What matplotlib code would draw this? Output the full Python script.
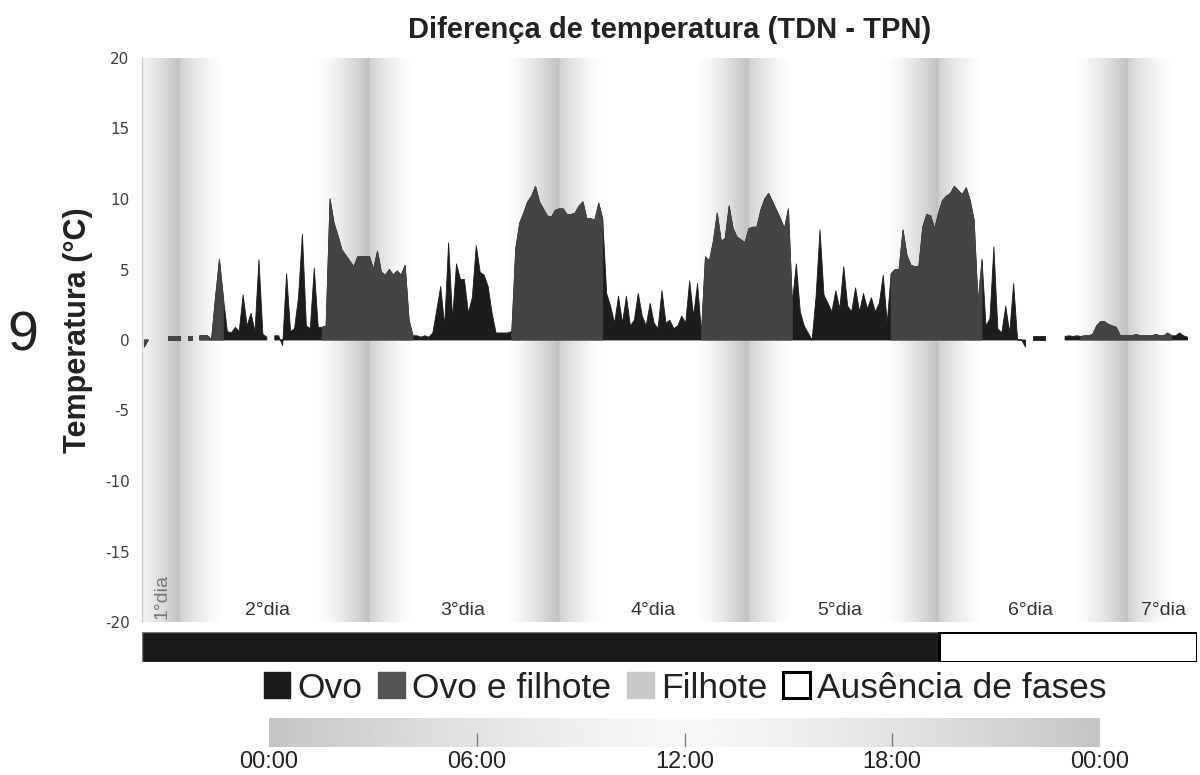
import numpy as np
import matplotlib.pyplot as plt
from matplotlib.patches import Patch

plt.rcParams['axes.unicode_minus'] = False

nan = np.nan

# TDN - TPN (°C), one value every 30 min; hours counted from midnight of day 1
t_first = 19.0
dt = 0.5
dif_day1 = [nan, -0.5, 0.0, nan, nan, nan, nan, 0.3, 0.3, 0.3]
dif_day2 = [0.3, nan, 0.3, 0.3, nan, 0.3, 0.3, 0.3, 0.0, 3.0, 5.7, 3.0,
            0.6, 0.5, 0.9, 0.6, 3.2, 1.0, 1.9, 0.6, 5.7, 0.4, 0.2, nan,
            0.3, 0.3, -0.4, 4.7, 0.6, 0.8, 3.0, 7.5, 1.0, 0.8, 5.1, 0.9,
            0.9, 1.0, 10.0, 8.3, 7.4, 6.4, 6.0, 5.6, 5.2, 5.9, 5.9, 5.9]
dif_day3 = [5.9, 5.0, 6.3, 4.8, 4.6, 5.0, 4.6, 4.9, 4.6, 5.3, 1.4, 0.3,
            0.3, 0.2, 0.3, 0.2, 0.5, 2.1, 3.8, 1.0, 6.9, 1.5, 5.4, 4.3,
            4.3, 1.9, 3.0, 6.7, 4.8, 4.6, 3.8, 1.9, 0.5, 0.5, 0.5, 0.5,
            0.6, 6.5, 8.3, 9.0, 9.8, 10.2, 10.9, 9.8, 9.3, 8.8, 8.7, 9.2]
dif_day4 = [9.3, 9.3, 8.9, 8.9, 9.0, 9.5, 9.8, 8.6, 8.6, 8.5, 9.7, 8.6,
            3.3, 2.4, 1.2, 3.1, 1.2, 3.1, 1.0, 1.4, 3.3, 1.7, 1.0, 2.6,
            1.2, 0.8, 3.5, 1.2, 1.4, 0.8, 1.0, 1.7, 1.2, 4.2, 1.7, 4.0,
            0.5, 5.9, 5.6, 7.0, 9.0, 7.0, 7.2, 9.5, 7.9, 7.3, 7.1, 6.9]
dif_day5 = [7.9, 8.0, 8.0, 9.2, 10.0, 10.4, 9.8, 9.2, 8.6, 7.9, 9.3, 2.6,
            5.4, 2.0, 1.0, 0.5, 0.0, 3.1, 7.8, 3.2, 2.6, 2.0, 3.5, 2.2,
            5.2, 2.4, 2.0, 3.7, 2.0, 3.3, 2.2, 3.0, 2.0, 2.6, 4.6, 1.2,
            4.7, 5.0, 5.0, 7.8, 6.0, 5.3, 5.2, 5.2, 8.0, 8.9, 8.8, 7.9]
dif_day6 = [9.0, 9.9, 10.2, 10.4, 10.9, 10.6, 10.3, 10.8, 9.9, 8.5, 2.6, 5.7,
            1.0, 1.5, 6.6, 0.8, 0.5, 2.4, 0.5, 4.0, 0.0, 0.0, -0.5, nan,
            0.3, 0.3, 0.3, 0.3, nan, nan, nan, nan, 0.25, 0.3, 0.25, 0.3,
            0.25, 0.3, 0.3, 0.4, 1.0, 1.3, 1.3, 1.1, 1.0, 0.9, 0.3, 0.3]
dif_day7 = [0.3, 0.3, 0.4, 0.3, 0.3, 0.3, 0.3, 0.4, 0.3, 0.3, 0.5, 0.3,
            0.3, 0.5, 0.3, 0.2, nan, nan]

day_labels = ['1°dia', '2°dia', '3°dia', '4°dia', '5°dia', '6°dia', '7°dia']
day_label_pos = [21.7, 35.1, 59.8, 83.9, 107.5, 131.6, 148.4]

phase_names = ['Ovo', 'Ausência de fases']
phase_start = [19.2, 120.0]
phase_end = [120.0, 152.7]

legend_names = ['Ovo', 'Ovo e filhote', 'Filhote', 'Ausência de fases']
hour_ticks = [0, 6, 12, 18, 24]
hour_labels = ['00:00', '06:00', '12:00', '18:00', '00:00']

x0, x1 = 19.2, 152.7
sans = ['Liberation Sans', 'DejaVu Sans']

vals = np.array(dif_day1 + dif_day2 + dif_day3 + dif_day4 + dif_day5 + dif_day6 + dif_day7)
t = t_first + dt * np.arange(len(vals))
hod = t % 24
night = (hod >= 18) | (hod < 5.75)

fig = plt.figure(figsize=(12, 7.75), dpi=100)
ax = fig.add_axes([142/1200, 1 - 622/775, 1055/1200, 564/775])

# night shading behind the series
tg = np.linspace(x0, x1, 3000)
hg = tg % 24
bg = np.ones_like(tg)
ev = hg >= 17.0
bg[ev] = 1 - 0.25 * ((hg[ev] - 17.0) / 7.0) ** 1.5
mo = hg < 6
bg[mo] = 1 - 0.18 * (1 - hg[mo] / 6) ** 1.6
ax.imshow(bg[None, :], extent=(x0, x1, -20, 20), aspect='auto', cmap='gray',
          vmin=0, vmax=1, interpolation='bilinear', zorder=0)

ax.fill_between(t, 0, vals, color='#1c1c1c', lw=0.6, zorder=2)
ax.fill_between(t, 0, vals, where=night, color='#444444', lw=0.6, zorder=3)

ax.set_xlim(x0, x1)
ax.set_ylim(-20, 20)
ax.set_xticks([])
ax.set_yticks(range(-20, 25, 5))
ax.tick_params(axis='y', length=0, pad=9, labelsize=11, labelcolor='#404040')
for s in ['top', 'right', 'bottom']:
    ax.spines[s].set_visible(False)
ax.spines['left'].set_color('#c8c8c8')

for lab, xp in zip(day_labels, day_label_pos):
    rot = 90 if lab == '1°dia' else 0
    col = '#777777' if lab == '1°dia' else '#333333'
    ax.text(xp, -19.8, lab, ha='center', va='bottom', rotation=rot,
            fontsize=14, color=col, family=sans, zorder=4)

# phase bar
axp = fig.add_axes([142/1200, 1 - 662/775, 1055/1200, 30/775])
axp.barh([0], [phase_end[0] - phase_start[0]], left=phase_start[0], height=1,
         color='#1a1a1a', edgecolor='#777777', lw=1)
axp.barh([0], [phase_end[1] - phase_start[1]], left=phase_start[1], height=1,
         color='white', edgecolor='black', lw=2.2)
axp.set_xlim(x0, x1)
axp.set_ylim(-0.5, 0.5)
axp.axis('off')

handles = [Patch(facecolor='#1a1a1a', edgecolor='#1a1a1a'),
           Patch(facecolor='#555555', edgecolor='#555555'),
           Patch(facecolor='#c8c8c8', edgecolor='#c8c8c8'),
           Patch(facecolor='white', edgecolor='black', lw=2.2)]
fig.legend(handles, legend_names, ncol=4, loc='center',
           bbox_to_anchor=(685/1200, 1 - 688/775), frameon=False,
           prop={'family': sans, 'size': 25.5}, handlelength=0.75,
           handleheight=0.75, handletextpad=0.2, columnspacing=0.45,
           labelcolor='#222222')

# time-of-day colour key
axc = fig.add_axes([269/1200, 1 - 747/775, 831/1200, 29/775])
hc = np.linspace(0, 24, 500)
bc = 0.97 - 0.2 * (np.abs(hc - 12) / 12) ** 1.3
axc.imshow(bc[None, :], extent=(0, 24, 0, 1), aspect='auto', cmap='gray',
           vmin=0, vmax=1, interpolation='bilinear')
axc.vlines(hour_ticks[1:-1], 0, 0.5, color='#808080', lw=1)
axc.set_xlim(0, 24)
axc.set_ylim(0, 1)
axc.set_yticks([])
axc.set_xticks(hour_ticks)
axc.set_xticklabels(hour_labels, family=sans, fontsize=17, color='#222222')
axc.tick_params(axis='x', length=0, pad=3)
for s in axc.spines.values():
    s.set_visible(False)

fig.text(670/1200, 1 - 38/775, 'Diferença de temperatura (TDN - TPN)',
         ha='center', va='baseline', fontsize=21, fontweight='bold',
         family=sans, color='#222222')
fig.text(78/1200, 1 - 330/775, 'Temperatura (°C)', rotation=90, ha='center',
         va='center', fontsize=22, fontweight='bold', family=sans,
         color='#222222')
fig.text(23/1200, 1 - 336/775, '9', ha='center', va='center', fontsize=40,
         family=sans, color='#222222')

fig.savefig('out.png', dpi=100)
